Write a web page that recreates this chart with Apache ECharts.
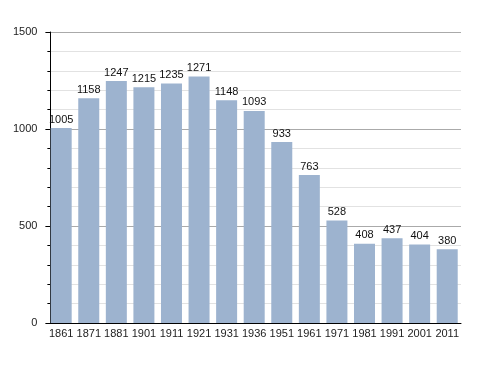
<!DOCTYPE html>
<html><head><meta charset="utf-8">
<script src="https://cdn.jsdelivr.net/npm/echarts@6/dist/echarts.min.js"></script>
<style>html,body{margin:0;padding:0;background:#fff}#c{width:488px;height:373px}</style>
</head><body><div id="c"></div>
<script>
var years = ['1861','1871','1881','1901','1911','1921','1931','1936','1951','1961','1971','1981','1991','2001','2011'];
var population = [1005,1158,1247,1215,1235,1271,1148,1093,933,763,528,408,437,404,380];
var yMin = 0, yMax = 1500, yMajor = 500, yMinor = 100;

var chart = echarts.init(document.getElementById('c'), null, {renderer:'canvas'});
var font = 'Liberation Sans, Arial, sans-serif';
chart.setOption({
  animation:false,
  grid:{left:47.4, right:27, top:32, bottom:50},
  xAxis:{
    type:'category', data:years,
    axisLine:{lineStyle:{color:'#000',width:1}},
    axisTick:{show:false},
    axisLabel:{color:'#222',fontSize:11,fontFamily:font,margin:5,interval:0}
  },
  yAxis:[{
    type:'value', min:yMin, max:yMax, interval:yMajor, offset:-3,
    axisLine:{show:true,lineStyle:{color:'#000',width:1}},
    axisTick:{show:true,length:5,lineStyle:{color:'#000'}},
    minorTick:{show:true,splitNumber:yMajor/yMinor,length:3,lineStyle:{color:'#000'}},
    splitLine:{show:true,lineStyle:{color:'#aaaaaa',width:1}},
    minorSplitLine:{show:true,lineStyle:{color:'#e2e2e2',width:1}},
    axisLabel:{color:'#222',fontSize:11,fontFamily:font,margin:13,formatter:function(v){return String(v);}}
  }],
  series:[{
    type:'bar', data:population, barWidth:21,
    itemStyle:{color:'#9db3cf'},
    label:{show:true,position:'top',distance:3,color:'#111',fontSize:11,fontFamily:font}
  }]
});
</script></body></html>
